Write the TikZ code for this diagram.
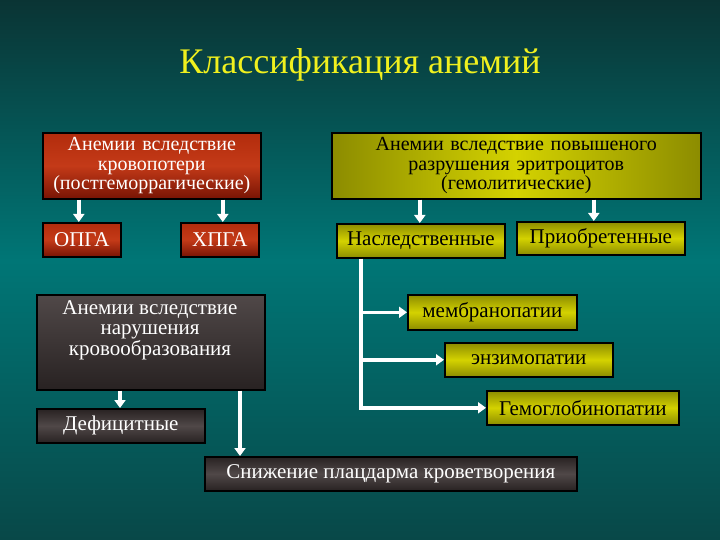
\documentclass[tikz,border=0pt]{standalone}
\usepackage{fontspec}
\setmainfont{Liberation Serif}
\usetikzlibrary{arrows.meta}
\definecolor{bgtop}{RGB}{10,52,52}
\definecolor{bgmid}{RGB}{0,118,118}
\definecolor{bgbot}{RGB}{8,72,72}
\definecolor{redA}{RGB}{178,44,12}
\definecolor{redB}{RGB}{196,58,24}
\definecolor{redC}{RGB}{120,20,4}
\definecolor{yelA}{RGB}{140,140,0}
\definecolor{yelB}{RGB}{212,210,0}
\definecolor{grA}{RGB}{80,72,72}
\definecolor{grB}{RGB}{40,34,34}
\definecolor{titlecol}{RGB}{240,240,30}
\tikzset{
  box/.style={draw=black, line width=1.6pt, anchor=north west, inner sep=2pt, align=center, font=\fontsize{21}{21}\selectfont},
  multi/.style={font=\fontsize{20}{19.5}\selectfont},
  redbox/.style={box, top color=redA, bottom color=redC, middle color=redB, text=white},
  yelbox/.style={box, top color=yelA, bottom color=yelA, middle color=yelB, text=black},
  yelwide/.style={box, left color=yelA, right color=yelA, middle color=yelB, text=black},
  graybox/.style={box, top color=grA, bottom color=grB, text=white},
  graysmall/.style={box, top color=grB, bottom color=grB, middle color=grA, text=white},
  arr/.style={draw=white, line width=3.4pt, -{Triangle[width=11pt,length=8pt]}},
  ln/.style={draw=white, line width=3.4pt}
}
\begin{document}
\begin{tikzpicture}[x=1pt,y=-1pt]
\shade[top color=bgtop, bottom color=bgmid] (0,0) rectangle (720,260);
\shade[top color=bgmid, bottom color=bgbot] (0,260) rectangle (720,540);
\useasboundingbox (0,0) rectangle (720,540);

\node[text=titlecol, font=\fontsize{36}{40}\selectfont] (title) at (360,65) {Классификация анемий};

\node[redbox, multi, minimum width=217pt, minimum height=66pt, text width=214pt] (red) at (42,132)
  {Анемии вследствие\\кровопотери\\(постгеморрагические)};
\node[redbox, minimum width=78pt, minimum height=34pt] (opga) at (42,222) {ОПГА};
\node[redbox, minimum width=78pt, minimum height=34pt] (hpga) at (180,222) {ХПГА};

\node[yelwide, multi, minimum width=369pt, minimum height=66pt, text width=360pt] (yel) at (331,132)
  {Анемии вследствие повышеного\\разрушения эритроцитов\\(гемолитические)};
\node[yelbox, minimum width=168pt, minimum height=34pt] (nasl) at (336,223) {Наследственные};
\node[yelbox, minimum width=168pt, minimum height=33pt] (prio) at (516,221) {Приобретенные};

\node[yelbox, minimum width=169pt, minimum height=35pt] (memb) at (407,294) {мембранопатии};
\node[yelbox, minimum width=168pt, minimum height=34pt] (enz) at (444,342) {энзимопатии};
\node[yelbox, minimum width=192pt, minimum height=34pt] (hemo) at (486,390) {Гемоглобинопатии};

\node[graybox, minimum width=228pt, minimum height=95pt, anchor=north west] (gray) at (36,294) {};
\node[text=white, align=center, font=\fontsize{21}{20.5}\selectfont, anchor=north, inner sep=0pt] (graytxt) at (150,300)
  {Анемии вследствие\\нарушения\\кровообразования};
\node[graysmall, minimum width=168pt, minimum height=34pt] (def) at (36,408) {Дефицитные};
\node[graysmall, minimum width=372pt, minimum height=34pt] (sniz) at (204,456) {Снижение плацдарма кроветворения};

% arrows
\draw[arr] (red.south -| opga.north) ++(-3,0) coordinate (a1) -- (a1 |- opga.north);
\draw[arr] (red.south -| hpga.north) ++(3,0) coordinate (a2) -- (a2 |- hpga.north);
\draw[arr] ([xshift=-1pt]nasl.north |- yel.south) coordinate (a3) -- (a3 |- nasl.north);
\draw[arr] ([xshift=-7pt]prio.north |- yel.south) coordinate (a4) -- (a4 |- prio.north);

\coordinate (v0) at ([xshift=-60pt]nasl.south);
\coordinate (v3) at (v0 |- hemo.west);
\draw[ln] (v0) -- ([yshift=1.7pt]v3);
\draw[arr] (v0 |- memb.west) -- (memb.west);
\draw[arr] (v0 |- enz.west) -- (enz.west);
\draw[arr] ([xshift=-1.7pt]v3) -- (hemo.west);

\draw[arr] (gray.south -| 120,0) coordinate (a5) -- (a5 |- def.north);
\draw[arr] (gray.south -| 240,0) coordinate (a6) -- (a6 |- sniz.north);
\end{tikzpicture}
\end{document}
